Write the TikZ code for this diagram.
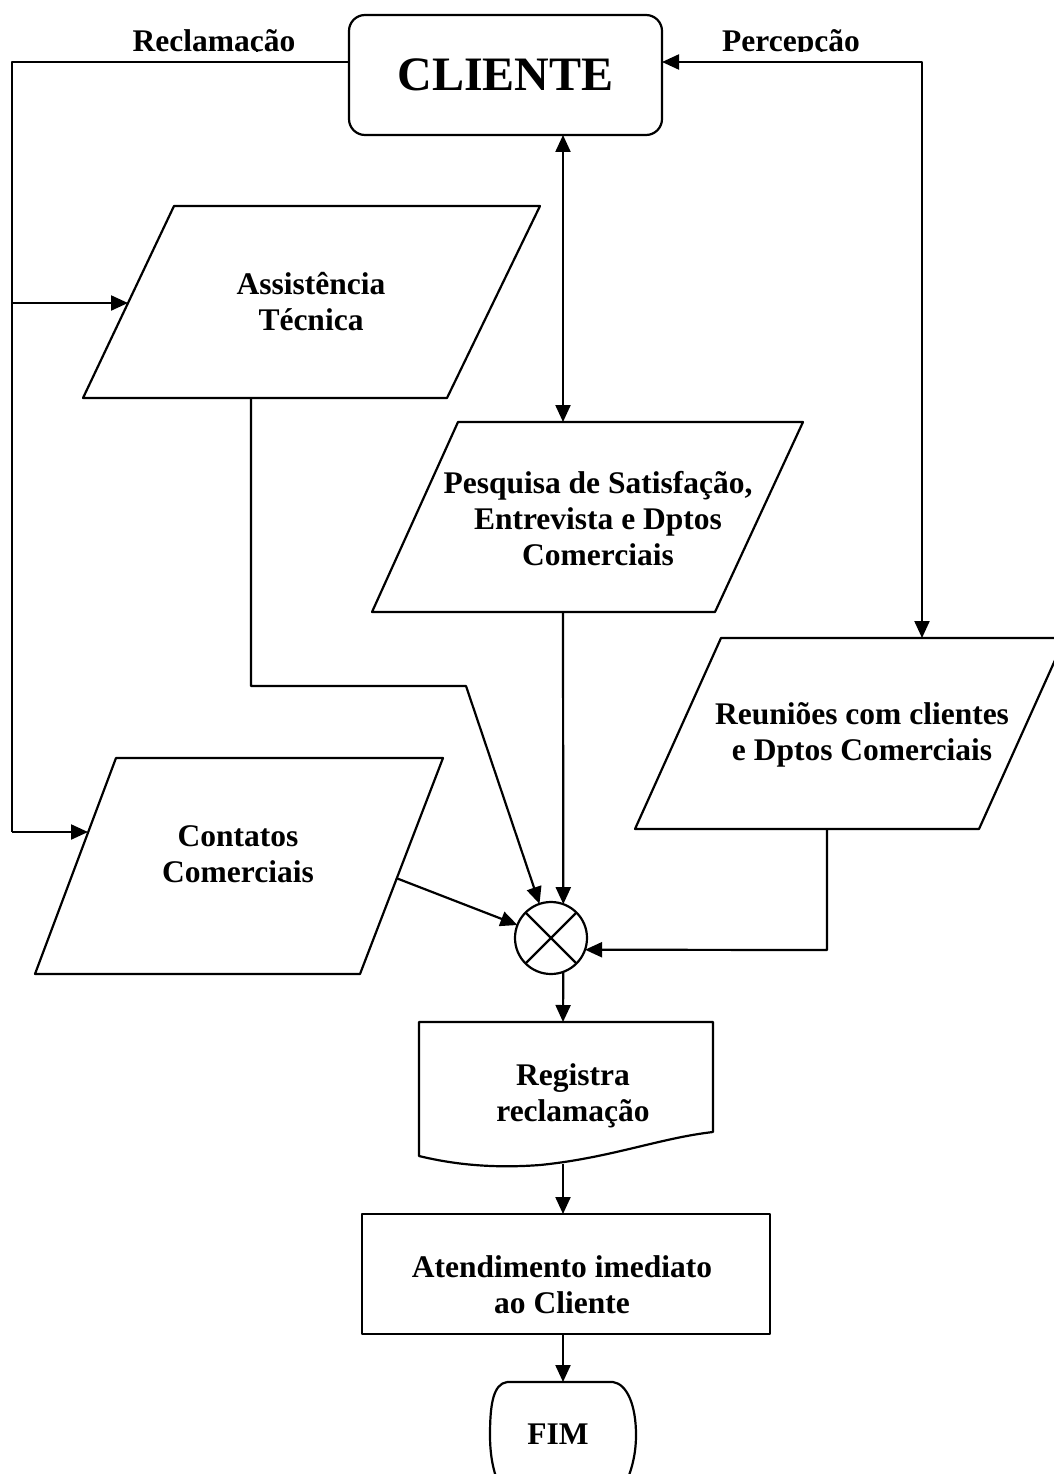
\documentclass[tikz,border=0pt]{standalone}
\usepackage{fontspec}
\setmainfont{Liberation Serif}
\usetikzlibrary{arrows.meta}
\newcommand\ctext[1]{\vtop{\baselineskip=36pt\halign{\hfil##\hfil\cr#1\crcr}}}
\begin{document}
\begin{tikzpicture}[x=1pt,y=-1pt,line width=2.2pt,line join=round,
  arr/.style={-{Triangle[length=17pt,width=15pt]}},
  darr/.style={{Triangle[length=17pt,width=15pt]}-{Triangle[length=17pt,width=15pt]}},
  txt/.style={font=\fontsize{31.5}{36}\selectfont\bfseries,inner sep=0pt,anchor=base},
  flowbox/.style={draw,inner sep=0pt,outer sep=0pt}]
\useasboundingbox (0,0) rectangle (1053,1474);

% CLIENTE
\node[flowbox,rounded corners=16pt,minimum width=313pt,minimum height=120pt,
  font=\fontsize{48}{58}\selectfont\bfseries] (cliente) at (505.5,75) {CLIENTE};

% Labels (clipped at baseline as in reference)
\begin{scope}
\clip (100,0) rectangle (960,52);
\node[txt] (lrec) at (214,52) {Reclamação};
\node[txt] (lper) at (791,52) {Percepção};
\end{scope}

% Assistencia Tecnica
\draw (174,206) -- (540,206) -- (447,398) -- (83,398) -- cycle;
\coordinate (as-in) at (128,303);
\coordinate (as-out) at (251,398);
\node[txt] (t-as) at (311,294) {\ctext{Assistência\cr Técnica}};

% Pesquisa
\draw (458,422) -- (803,422) -- (715,612) -- (372,612) -- cycle;
\coordinate (pq-in) at (563,422);
\coordinate (pq-out) at (563,612);
\node[txt] (t-pq) at (598,493) {\ctext{Pesquisa de Satisfação,\cr Entrevista e Dptos\cr Comerciais}};

% Reunioes
\draw (721,638) -- (1065,638) -- (979,829) -- (635,829) -- cycle;
\coordinate (re-in) at (922,638);
\coordinate (re-out) at (827,829);
\node[txt] (t-re) at (862,724) {\ctext{Reuniões com clientes\cr e Dptos Comerciais}};

% Contatos
\draw (116,758) -- (443,758) -- (360,974) -- (35,974) -- cycle;
\coordinate (co-in) at (88,832);
\coordinate (co-out) at (396,878);
\node[txt] (t-co) at (238,846) {\ctext{Contatos\cr Comerciais}};

% summing junction
\node[flowbox,circle,minimum size=72pt] (sum) at (551,938) {};
\draw (sum.north west) -- (sum.south east);
\draw (sum.north east) -- (sum.south west);

% Documento
\draw (419,1022) -- (713,1022) -- (713,1132)
  .. controls (660,1138) and (610,1158) .. (540,1165)
  .. controls (500,1168) and (460,1166) .. (419,1156) -- cycle;
\coordinate (doc-in) at (563,1022);
\coordinate (doc-out) at (563,1164);
\node[txt] (t-doc) at (573,1085) {\ctext{Registra\cr reclamação}};

% Atendimento
\node[flowbox,minimum width=408pt,minimum height=120pt] (atend) at (566,1274) {};
\node[txt] (t-at) at (562,1277) {\ctext{Atendimento imediato\cr ao Cliente}};

% FIM
\draw (507,1382) -- (613,1382)
  .. controls (627,1384) and (636,1405) .. (636,1435)
  .. controls (636,1458) and (630,1475) .. (622,1492);
\draw (507,1382)
  .. controls (493,1384) and (490,1405) .. (490,1435)
  .. controls (490,1458) and (494,1475) .. (502,1492);
\coordinate (fim-in) at (563,1382);
\node[txt] (t-fim) at (558,1444) {FIM};

% connectors
\coordinate (lvl) at (0,62);
\coordinate (c-left) at (cliente.west |- lvl);
\coordinate (c-right) at (cliente.east |- lvl);
\coordinate (rk1) at (12,62);
\coordinate (rk2) at (12,303);
\coordinate (rk3) at (12,832);
\coordinate (pc) at (922,62);
\coordinate (ab) at (251,686);
\coordinate (ac) at (466,686);
\coordinate (rb) at (827,950);

\draw (c-left) -- (rk1) -- (rk3);
\draw[arr] (rk2) -- (as-in);
\draw[arr] (rk3) -- (co-in);
\draw[darr] (c-right) -- (pc) -- (re-in);
\draw[darr] (cliente.south -| pq-in) -- (pq-in);
\draw[arr] (as-out) -- (ab) -- (ac) -- (sum);
\draw[arr] (pq-out) -- (sum.70.5);
\draw[arr] (co-out) -- (sum);
\draw[arr] (re-out) -- (rb) -- (sum.-19.5);
\draw[arr] (sum.-70.5) -- (doc-in);
\draw[arr] (doc-out) -- (doc-out |- atend.north);
\draw[arr] (atend.south -| fim-in) -- (fim-in);
\end{tikzpicture}
\end{document}
